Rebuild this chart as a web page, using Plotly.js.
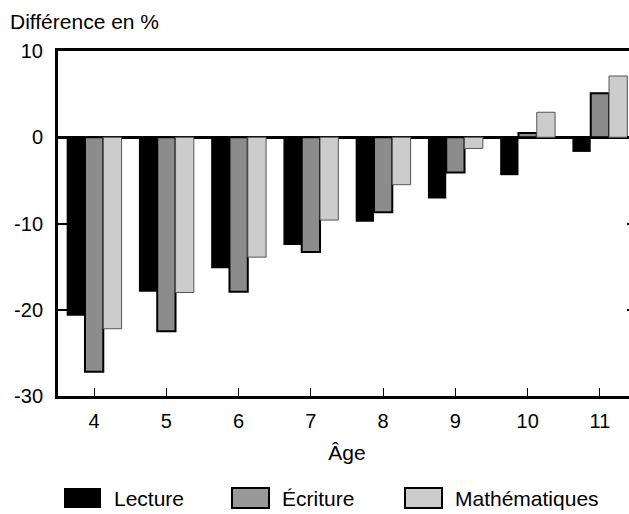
<!DOCTYPE html>
<html>
<head>
<meta charset="utf-8">
<script src="https://cdn.plot.ly/plotly-3.0.1.min.js"></script>
<style>
html,body{margin:0;padding:0;overflow:hidden;background:#fff;}
#chart{width:640px;height:514px;}
</style>
</head>
<body>
<div id="chart"></div>
<script>
var ages = [4, 5, 6, 7, 8, 9, 10, 11];
var seriesNames = ["Lecture", "Écriture", "Mathématiques"];
var lecture = [-20.7, -17.9, -15.2, -12.5, -9.8, -7.1, -4.4, -1.7];
var ecriture = [-27.2, -22.5, -17.9, -13.3, -8.7, -4.1, 0.5, 5.1];
var maths = [-22.2, -18.0, -13.9, -9.6, -5.5, -1.3, 2.9, 7.1];
var yTickVals = [10, 0, -10, -20, -30];
var yTickText = ["10", "0", "-10", "-20", "-30"];
var xTickText = ["4", "5", "6", "7", "8", "9", "10", "11"];

var fills = ["#000000", "#8c8c8c", "#cccccc"];
var lines = [{color: "#000000", width: 0}, {color: "#000000", width: 2}, {color: "#555555", width: 1}];
var values = [lecture, ecriture, maths];

var traces = values.map(function (v, i) {
  return {
    type: "bar",
    x: ages,
    y: v,
    name: seriesNames[i],
    marker: {color: fills[i], line: lines[i]},
    showlegend: false,
    hoverinfo: "x+y"
  };
});

var family = "Liberation Sans, Arial, sans-serif";
var tickFont = {family: family, size: 20, color: "#000"};
var font = {family: family, size: 21, color: "#000"};

var shapes = [];
var annotations = [
  {text: "Différence en %", xref: "paper", yref: "paper", x: -0.0865, y: 1.085,
   xanchor: "left", yanchor: "middle", showarrow: false, font: font}
];
var legendX = [64, 232, 405];
var legendFill = ["#000000", "#999999", "#cccccc"];
var legendLine = [0, 2, 2];
var plotLeft = 58, plotW = 578, plotTop = 51, plotH = 345;
function px2paperX(p) { return (p - plotLeft) / plotW; }
function px2paperY(p) { return (plotTop + plotH - p) / plotH; }
for (var i = 0; i < 3; i++) {
  shapes.push({type: "rect", xref: "paper", yref: "paper",
    x0: px2paperX(legendX[i]), x1: px2paperX(legendX[i] + 37),
    y0: px2paperY(508), y1: px2paperY(488),
    fillcolor: legendFill[i], line: {color: "#000", width: legendLine[i]}});
  annotations.push({text: seriesNames[i], xref: "paper", yref: "paper",
    x: px2paperX(legendX[i] + 48), y: px2paperY(498), xanchor: "left", yanchor: "middle",
    showarrow: false, font: font});
}

var layout = {
  width: 640, height: 514,
  margin: {l: 58, r: 4, t: 51, b: 118},
  paper_bgcolor: "#fff", plot_bgcolor: "#fff",
  font: font,
  barmode: "group",
  bargap: 0.24,
  bargroupgap: 0,
  xaxis: {
    range: [3.5, 11.5],
    tickmode: "array", tickvals: ages, ticktext: xTickText,
    ticks: "inside", ticklen: 8, tickwidth: 1, tickcolor: "#000",
    showline: true, linecolor: "#000", linewidth: 3, mirror: true,
    showgrid: false, zeroline: false,
    ticklabelstandoff: 5,
    tickfont: tickFont,
    title: {text: "Âge", font: font, standoff: 15}
  },
  yaxis: {
    range: [-30, 10],
    tickmode: "array", tickvals: yTickVals, ticktext: yTickText,
    ticks: "inside", ticklen: 9, tickwidth: 2, tickcolor: "#000",
    showline: true, linecolor: "#000", linewidth: 3, mirror: "ticks",
    showgrid: false,
    zeroline: true, zerolinecolor: "#000", zerolinewidth: 3,
    ticklabelstandoff: 8,
    tickfont: tickFont
  },
  shapes: shapes,
  annotations: annotations
};

Plotly.newPlot("chart", traces, layout, {displayModeBar: false, staticPlot: true});
</script>
</body>
</html>
